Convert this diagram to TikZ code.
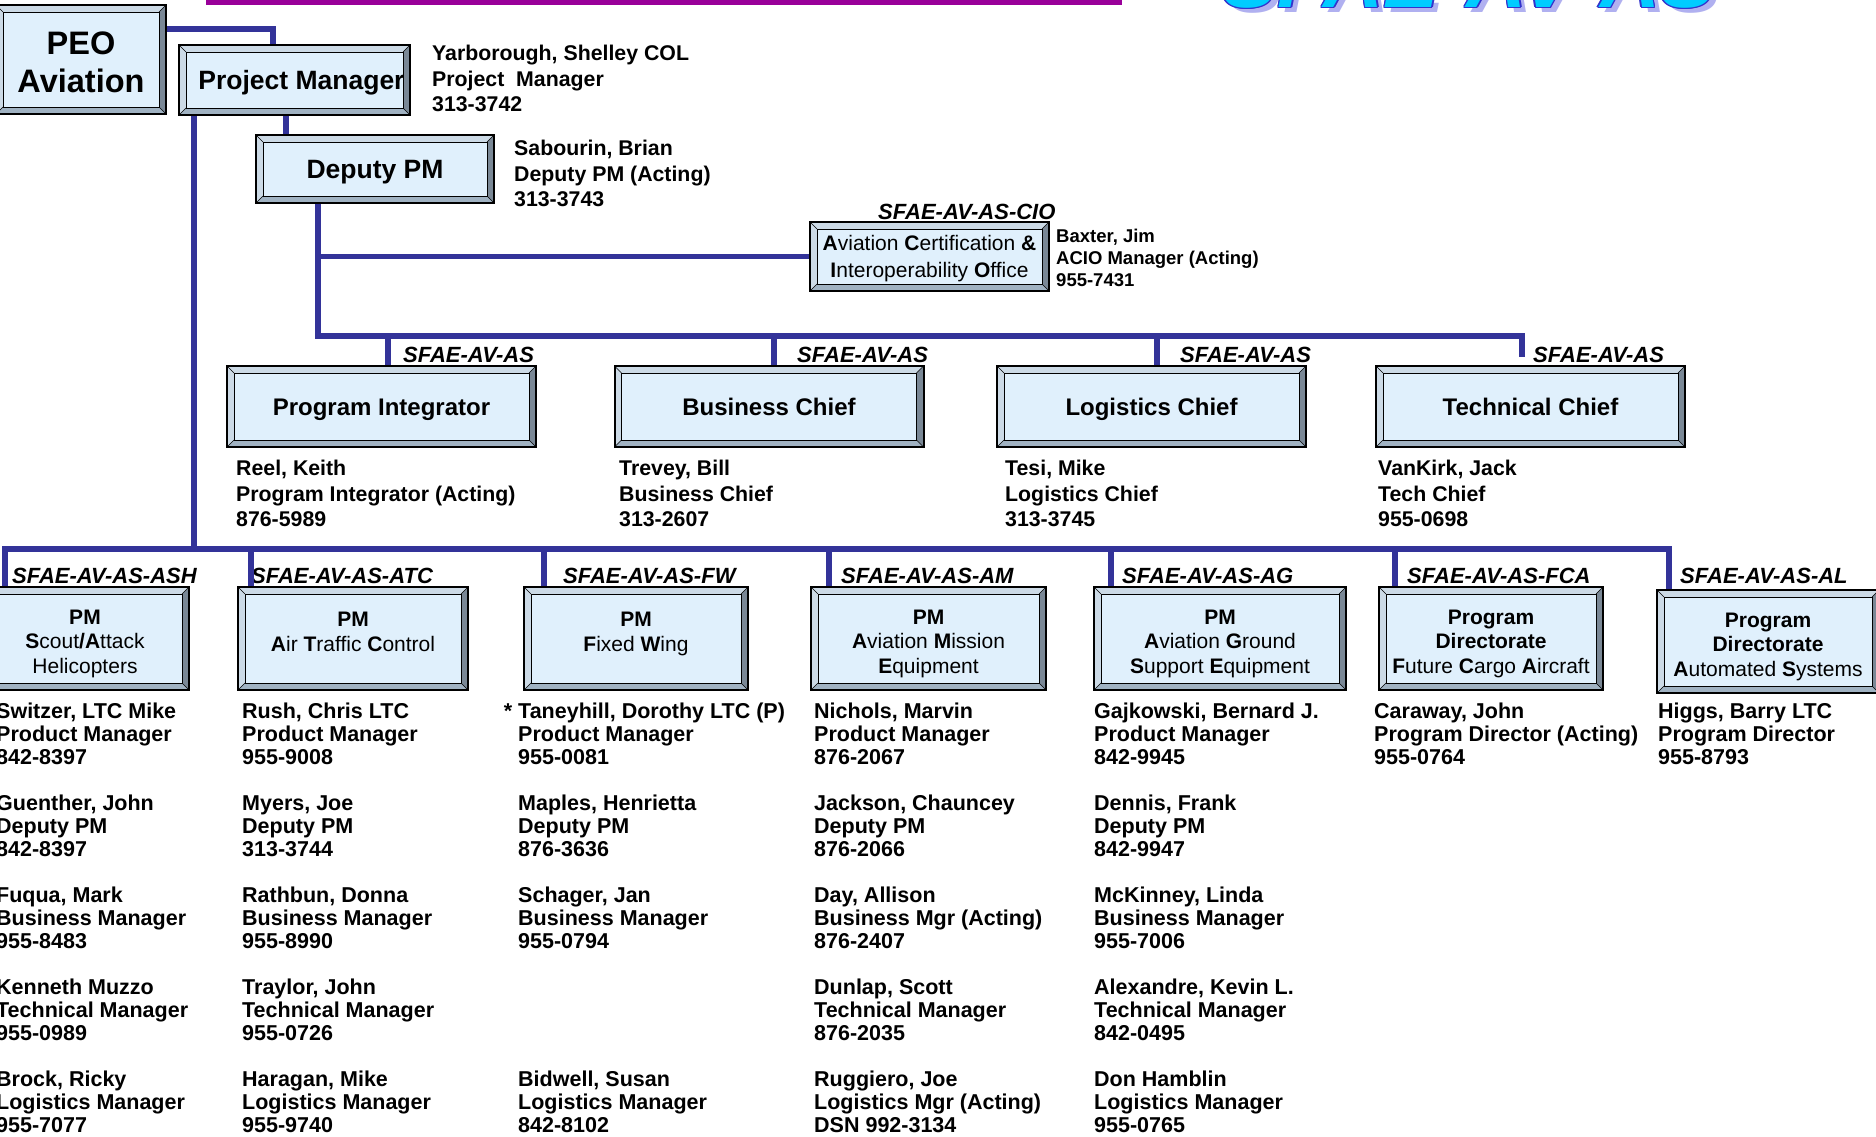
\documentclass[tikz,border=0pt]{standalone}
\usepackage{fontspec}
\setmainfont{Liberation Sans}
\usepackage{tikz}

\definecolor{wireblue}{RGB}{51,51,153}
\definecolor{topline}{RGB}{153,0,153}
\definecolor{boxface}{RGB}{224,240,252}
\definecolor{bevlight}{RGB}{204,218,230}
\definecolor{bevdark}{RGB}{122,136,150}
\definecolor{bevbottom}{RGB}{160,178,194}
\definecolor{titlecyan}{RGB}{0,204,255}
\definecolor{titleblue}{RGB}{51,51,204}
\definecolor{titleshade}{RGB}{176,176,240}

\tikzset{
  wire/.style={draw=wireblue, line width=5.5pt},
  bevelbox/.style={draw=black, line width=2pt, fill=boxface, inner sep=0pt, align=center,
    path picture={
      \path (path picture bounding box.north west) coordinate (o1)
            (path picture bounding box.north east) coordinate (o2)
            (path picture bounding box.south east) coordinate (o3)
            (path picture bounding box.south west) coordinate (o4);
      \path ([shift={(7pt,-7pt)}]o1) coordinate (i1)
            ([shift={(-7pt,-7pt)}]o2) coordinate (i2)
            ([shift={(-7pt,7pt)}]o3) coordinate (i3)
            ([shift={(7pt,7pt)}]o4) coordinate (i4);
      \fill[bevlight] (o1) -- (o2) -- (i2) -- (i1) -- cycle;
      \fill[bevlight] (o1) -- (o4) -- (i4) -- (i1) -- cycle;
      \fill[bevdark] (o2) -- (o3) -- (i3) -- (i2) -- cycle;
      \fill[bevbottom] (o4) -- (o3) -- (i3) -- (i4) -- cycle;
      \draw[line width=1pt] (i1) rectangle (i3);
      \draw[line width=0.6pt] (o1) -- (i1) (o2) -- (i2) (o3) -- (i3) (o4) -- (i4);
    }},
  headbox/.style={bevelbox, text height=19pt, text depth=0pt,
    font=\fontsize{26.5}{30}\selectfont\bfseries},
  chief/.style={bevelbox, minimum width=309pt, minimum height=81pt,
    text height=17.2pt, text depth=0pt, font=\fontsize{24}{28}\selectfont\bfseries},
  office/.style={bevelbox, minimum height=103pt,
    font=\fontsize{21}{24.5}\selectfont},
  tag/.style={anchor=base west, inner sep=0pt,
    font=\fontsize{22}{22}\selectfont\bfseries\itshape},
  info/.style={anchor=north west, align=left, inner sep=0pt,
    font=\fontsize{21.3}{25.5}\selectfont\bfseries},
  staff/.style={info, font=\fontsize{21.5}{23}\selectfont\bfseries},
  banner/.style={anchor=base west, inner sep=0pt,
    font=\fontsize{83}{83}\selectfont\bfseries\itshape},
}
\newcommand\toprow{\rule{0pt}{25pt}}

\begin{document}
\begin{tikzpicture}[x=1pt, y=-1pt]
    % Рамка страницы
    \path[use as bounding box, fill=white] (0,0) rectangle (1876,1136);

    % Заголовок
    \fill[topline] (206,0) rectangle (1122,5);
    \node[banner, text=titleshade] (titleshadow) at (1228,12) {SFAE-AV-AS};
    \foreach \i/\dx/\dy in {1/1.5/0, 2/-1.5/0, 3/0/1.5, 4/0/-1.5,
                            5/1/1, 6/-1/1, 7/1/-1, 8/-1/-1}
        \node[banner, text=titleblue] (titleo\i) at (1222+\dx,7+\dy) {SFAE-AV-AS};
    \node[banner, text=titlecyan] (title) at (1222,7) {SFAE-AV-AS};

    % Руководство
    \node[bevelbox, minimum width=170pt, minimum height=109pt,
          font=\fontsize{32.5}{38}\selectfont\bfseries] (peo) at (81,59.5) {\rule{0pt}{29pt}PEO\\Aviation};
    \node[headbox, minimum width=231pt, minimum height=70pt] (pm) at (294.5,80) {\kern14pt Project Manager};
    \node[headbox, minimum width=238pt, minimum height=68pt] (dpm) at (375,169) {Deputy PM};
    \node[bevelbox, minimum width=239pt, minimum height=69pt,
          font=\fontsize{21}{27}\selectfont] (cio) at (929.5,256.5)
          {\rule{0pt}{19pt}\textbf{A}viation \textbf{C}ertification \textbf{\&}\\\textbf{I}nteroperability \textbf{O}ffice};
    \node[tag] (ciotag) at (878,219.5) {SFAE-AV-AS-CIO};

    \node[info] (pminfo) at (432,45) {Yarborough, Shelley COL\\Project\ \ Manager\\313-3742};
    \node[info] (dpminfo) at (514,140) {Sabourin, Brian\\Deputy PM (Acting)\\313-3743};
    \node[info, font=\fontsize{18.5}{22}\selectfont\bfseries] (cioinfo) at (1056,229)
          {Baxter, Jim\\ACIO Manager (Acting)\\955-7431};

    % Начальники отделов
    \foreach \n/\x/\t in {integrator/381.5/Program Integrator, business/769/Business Chief,
                          logistics/1151.5/Logistics Chief, technical/1530.5/Technical Chief}
        \node[chief] (\n) at (\x,406.5) {\t};
    \foreach \n/\x in {integrator/403, business/797, logistics/1180, technical/1533}
        \node[tag] (\n tag) at (\x,362.5) {SFAE-AV-AS};

    \node[info] (integratorinfo) at (236,460) {Reel, Keith\\Program Integrator (Acting)\\876-5989};
    \node[info] (businessinfo) at (619,460) {Trevey, Bill\\Business Chief\\313-2607};
    \node[info] (logisticsinfo) at (1005,460) {Tesi, Mike\\Logistics Chief\\313-3745};
    \node[info] (technicalinfo) at (1378,460) {VanKirk, Jack\\Tech Chief\\955-0698};

    % Проектные офисы
    \foreach \n/\x/\y/\w/\t in {
        ash/85/638.5/208/{\toprow\textbf{PM}\\\textbf{S}cout\textbf{/A}ttack\\Helicopters},
        atc/353/638.5/230/{\toprow\textbf{PM}\\\textbf{A}ir \textbf{T}raffic \textbf{C}ontrol\\~},
        fw/636/638.5/224/{\toprow\textbf{PM}\\\textbf{F}ixed \textbf{W}ing\\~},
        am/928.5/638.5/235/{\toprow\textbf{PM}\\\textbf{A}viation \textbf{M}ission\\\textbf{E}quipment},
        ag/1220/638.5/252/{\toprow\textbf{PM}\\\textbf{A}viation \textbf{G}round\\\textbf{S}upport \textbf{E}quipment},
        fca/1491/638.5/224/{\toprow\textbf{Program}\\\textbf{Directorate}\\\textbf{F}uture \textbf{C}argo \textbf{A}ircraft},
        al/1768/641.5/222/{\toprow\textbf{Program}\\\textbf{Directorate}\\\textbf{A}utomated \textbf{S}ystems}}
        \node[office, minimum width=\w pt] (\n) at (\x,\y) {\t};
    \foreach \n/\x in {ash/12, atc/251, fw/563, am/841, ag/1122, fca/1407, al/1680}
        \node[tag] (\n tag) at (\x,583) {SFAE-AV-AS-\MakeUppercase{\n}};

    % Сотрудники офисов
    \node[staff] (ashstaff) at (-4,703) {Switzer, LTC Mike\\Product Manager\\842-8397\\[23pt]
        Guenther, John\\Deputy PM\\842-8397\\[23pt]
        Fuqua, Mark\\Business Manager\\955-8483\\[23pt]
        Kenneth Muzzo\\Technical Manager\\955-0989\\[23pt]
        Brock, Ricky\\Logistics Manager\\955-7077};
    \node[staff] (atcstaff) at (242,703) {Rush, Chris LTC\\Product Manager\\955-9008\\[23pt]
        Myers, Joe\\Deputy PM\\313-3744\\[23pt]
        Rathbun, Donna\\Business Manager\\955-8990\\[23pt]
        Traylor, John\\Technical Manager\\955-0726\\[23pt]
        Haragan, Mike\\Logistics Manager\\955-9740};
    \node[staff] (fwstaff) at (518,703) {\llap{*\ }Taneyhill, Dorothy LTC (P)\\Product Manager\\955-0081\\[23pt]
        Maples, Henrietta\\Deputy PM\\876-3636\\[23pt]
        Schager, Jan\\Business Manager\\955-0794\\[115pt]
        Bidwell, Susan\\Logistics Manager\\842-8102};
    \node[staff] (amstaff) at (814,703) {Nichols, Marvin\\Product Manager\\876-2067\\[23pt]
        Jackson, Chauncey\\Deputy PM\\876-2066\\[23pt]
        Day, Allison\\Business Mgr (Acting)\\876-2407\\[23pt]
        Dunlap, Scott\\Technical Manager\\876-2035\\[23pt]
        Ruggiero, Joe\\Logistics Mgr (Acting)\\DSN 992-3134};
    \node[staff] (agstaff) at (1094,703) {Gajkowski, Bernard J.\\Product Manager\\842-9945\\[23pt]
        Dennis, Frank\\Deputy PM\\842-9947\\[23pt]
        McKinney, Linda\\Business Manager\\955-7006\\[23pt]
        Alexandre, Kevin L.\\Technical Manager\\842-0495\\[23pt]
        Don Hamblin\\Logistics Manager\\955-0765};
    \node[staff] (fcastaff) at (1374,703) {Caraway, John\\Program Director (Acting)\\955-0764};
    \node[staff] (alstaff) at (1658,703) {Higgs, Barry LTC\\Program Director\\955-8793};

    % Линии связи
    \coordinate (peoout) at ([yshift=-25pt]peo.north east);
    \coordinate (pmin) at ([xshift=95pt]pm.north west);
    \coordinate (pmdown) at ([xshift=16pt]pm.south west);
    \coordinate (pmdpm) at ([xshift=108pt]pm.south west);
    \coordinate (dpmdown) at ([xshift=63pt]dpm.south west);
    \coordinate (utechend) at (1522,357);
    \foreach \n/\x in {integrator/388, business/774, logistics/1157, technical/1522}
        \coordinate (u\n) at (\x,336);
    \foreach \n/\x in {ash/5, atc/251, fw/544, am/829, ag/1111, fca/1395, al/1669}
        \coordinate (l\n) at (\x,549);

    \draw[wire] (peoout) -| (pmin);
    \draw[wire] (pmdpm) -- (pmdpm |- dpm.north);
    \draw[wire] (dpmdown) |- (utechnical) -- (utechend);
    \draw[wire] (dpmdown |- cio.west) -- (cio.west);
    \foreach \n in {integrator, business, logistics}
        \draw[wire] (u\n) -- (u\n |- \n.north);
    \draw[wire] (pmdown) -- (pmdown |- lash);
    \draw[wire] (lash |- ash.north) -- (lash) -- (lal) -- (lal |- al.north);
    \foreach \n in {atc, fw, am, ag, fca}
        \draw[wire] (l\n) -- (l\n |- \n.north);
\end{tikzpicture}
\end{document}
